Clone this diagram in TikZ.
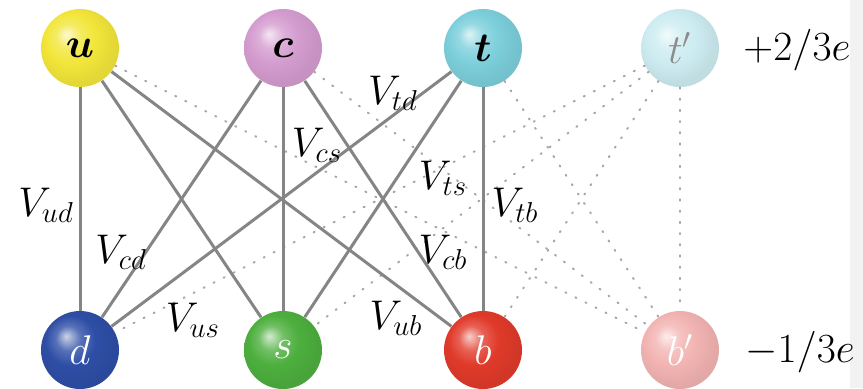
\documentclass[tikz,border=0pt]{standalone}
\usepackage{amsmath,bm}
\makeatletter
\pgfdeclareradialshading[tikz@ball]{softball}{\pgfqpoint{-9bp}{9bp}}{%
  color(0bp)=(tikz@ball!25!white); color(8bp)=(tikz@ball!80!white);
  color(16bp)=(tikz@ball); color(26bp)=(tikz@ball!94!black); color(50bp)=(tikz@ball!88!black)}
\makeatother
\begin{document}
\begin{tikzpicture}[x=0.5pt,y=-0.5pt,
  quark/.style={circle,minimum size=39pt,inner sep=0pt,font=\fontsize{20}{24}\selectfont},
  solidline/.style={draw=black!48,line width=1.5pt},
  dotline/.style={draw=black!35,line width=1pt,dash pattern=on 0.6pt off 5pt,line cap=round},
  lab/.style={font=\fontsize{20}{24}\selectfont,inner sep=0pt},
]
\useasboundingbox (0,0) rectangle (863,388);
\fill[black!5] (850,0) rectangle (863,388);
\definecolor{cu}{HTML}{F2E63A}
\definecolor{cc}{HTML}{D49CCF}
\definecolor{ct}{HTML}{7CCFDB}
\definecolor{ctp}{HTML}{CDECF1}
\definecolor{cd}{HTML}{2E4EA6}
\definecolor{cs}{HTML}{4DAF3E}
\definecolor{cb}{HTML}{E03A2A}
\definecolor{cbp}{HTML}{F2B4B2}
\node[quark,ball color=cu,shading=softball] (u) at (80,48) {$\bm{u}$};
\node[quark,ball color=cc,shading=softball] (c) at (283,48) {$\bm{c}$};
\node[quark,ball color=ct,shading=softball] (t) at (483,48) {$\bm{t}$};
\node[quark,ball color=ctp,shading=softball,text=black!45] (tp) at (680,48) {$t'$};
\node[quark,ball color=cd,shading=softball,text=white] (d) at (80,350) {$d$};
\node[quark,ball color=cs,shading=softball,text=white] (s) at (283,350) {$s$};
\node[quark,ball color=cb,shading=softball,text=white] (b) at (483,350) {$b$};
\node[quark,ball color=cbp,shading=softball,text=white] (bp) at (680,350) {$b'$};
% dotted couplings to the fourth generation
\foreach \a/\z in {u/bp,c/bp,t/bp,tp/d,tp/s,tp/b,tp/bp}
  \draw[dotline] (\a) -- (\z);
% solid CKM couplings
\foreach \a in {u,c,t}
  \foreach \z in {d,s,b}
    \draw[solidline] (\a) -- (\z);
% labels
\node[lab] (lud) at (46,205) {$V_{ud}$};
\node[lab] (lcd) at (121,252) {$V_{cd}$};
\node[lab] (lus) at (193,320) {$V_{us}$};
\node[lab] (lcs) at (317,145) {$V_{cs}$};
\node[lab] (ltd) at (393,93) {$V_{td}$};
\node[lab] (lts) at (443,178) {$V_{ts}$};
\node[lab] (ltb) at (515,205) {$V_{tb}$};
\node[lab] (lcb) at (443,252) {$V_{cb}$};
\node[lab] (lub) at (396,318) {$V_{ub}$};
\node[lab] (qup) at (797,50) {$+2/3e$};
\node[lab] (qdn) at (800,352) {$-1/3e$};
\end{tikzpicture}
\end{document}
